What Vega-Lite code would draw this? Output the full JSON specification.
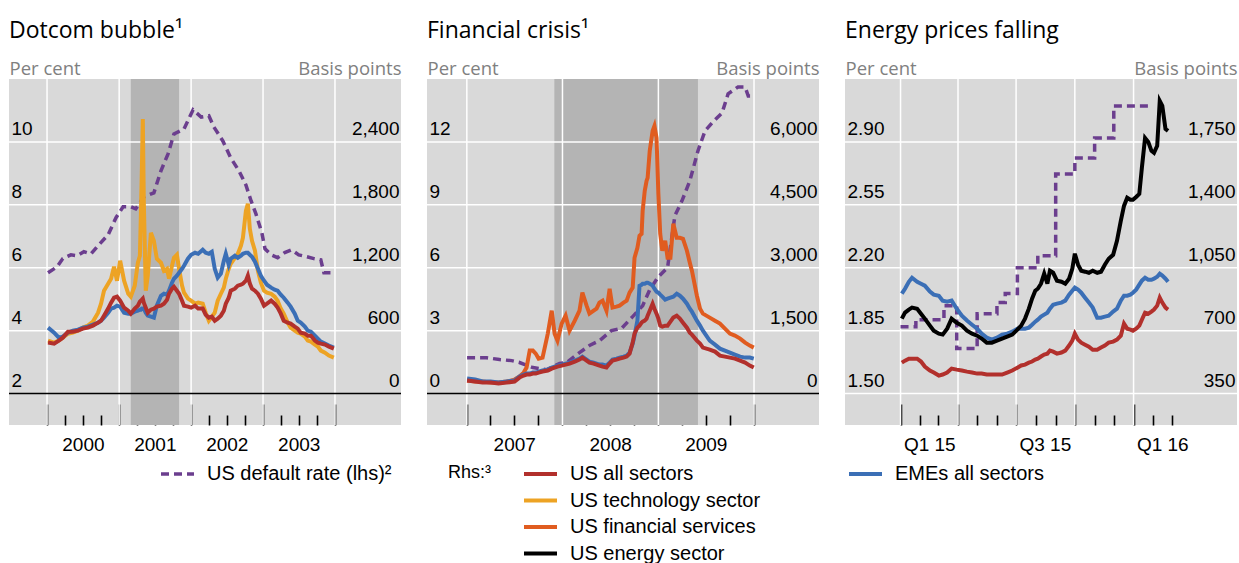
{
"$schema":"https://vega.github.io/schema/vega-lite/v6.json",
"padding":{"left":8,"top":20,"right":0,"bottom":0},
"spacing":24,
"background":"white",
"config":{
 "view":{"fill":"#d9d9d9","stroke":null},
 "axis":{"labelFont":"Liberation Sans","labelFontSize":19,"labelColor":"#000000","grid":false,"domain":false,"tickColor":"#000000","tickWidth":1.5,"tickOpacity":1,"labelFlush":false,"labelOverlap":false,"titleFont":"Open Sans","titleFontSize":18.5,"titleFontWeight":"normal","titleColor":"#808080"},
 "axisBottom":{"tickColor":"#000000","tickWidth":1.6,"tickOpacity":1,"zindex":1},
 "title":{"font":"Open Sans","fontSize":23,"fontWeight":"normal","color":"#000000","anchor":"start","frame":"group","offset":16},
 "legend":{"labelFont":"Liberation Sans","labelFontSize":20,"labelColor":"#000000","labelLimit":500,"symbolType":"stroke","symbolStrokeWidth":4,"symbolSize":1089,"labelOffset":11,"padding":0,"clipHeight":20,"rowPadding":6.5,"titleFont":"Liberation Sans","titleFontSize":18,"titleFontWeight":"normal","titleColor":"#000000"}
},
"resolve":{"scale":{"color":"independent"},"legend":{"color":"independent"}},
"hconcat":[
{
 "width":392,"height":346,
 "title":"Dotcom bubble¹",
 "resolve":{"scale":{"y":"independent","color":"independent"},"axis":{"x":"independent"}},
 "layer":[
  {"data":{"values":[{"s":"2001-03-01","e":"2001-11-01"}]},
   "mark":{"type":"rect","color":"#b4b4b4"},
   "encoding":{"x":{"field":"s","type":"temporal","scale":{"domain":[{"year":1999,"month":6,"date":22},{"year":2004,"month":12,"date":1}]},
     "axis":{"orient":"bottom","title":null,"labels":false,"ticks":true,"tickSize":-10,"tickColor":"#000000","values":[{"year":2000,"month":4,"date":1},{"year":2000,"month":7,"date":1},{"year":2000,"month":10,"date":1},{"year":2001,"month":4,"date":1},{"year":2001,"month":7,"date":1},{"year":2001,"month":10,"date":1},{"year":2002,"month":4,"date":1},{"year":2002,"month":7,"date":1},{"year":2002,"month":10,"date":1},{"year":2003,"month":4,"date":1},{"year":2003,"month":7,"date":1},{"year":2003,"month":10,"date":1}]}},
    "x2":{"field":"e"}}},
  {"data":{"values":[{"t":"2000-01-01"},{"t":"2001-01-01"},{"t":"2002-01-01"},{"t":"2003-01-01"},{"t":"2004-01-01"}]},
   "mark":{"type":"rule","color":"#ffffff","strokeWidth":1.5},
   "encoding":{"x":{"field":"t","type":"temporal","scale":{"domain":[{"year":1999,"month":6,"date":22},{"year":2004,"month":12,"date":1}]},
     "axis":{"orient":"bottom","title":null,"labels":false,"ticks":true,"tickSize":-21,"tickColor":"#000000","values":[{"year":2000,"month":1,"date":1},{"year":2001,"month":1,"date":1},{"year":2002,"month":1,"date":1},{"year":2003,"month":1,"date":1},{"year":2004,"month":1,"date":1}]}}}},
  {"layer":[
    {"data":{"values":[{"g":4},{"g":6},{"g":8},{"g":10}]},
     "mark":{"type":"rule","color":"#ffffff","strokeWidth":1.5},
     "encoding":{"y":{"field":"g","type":"quantitative","scale":{"domain":[1,12],"nice":false,"zero":false},
       "axis":{"orient":"left","title":"Per cent","values":[2,4,6,8,10],"format":".0f","ticks":false,"labelAlign":"left","labelPadding":-2,"labelBaseline":"alphabetic","labelOffset":-7,"titleAngle":0,"titleAlign":"left","titleBaseline":"alphabetic","titleX":0,"titleY":-5}}}},
    {"data":{"values":[{"z":2}]},
     "mark":{"type":"rule","color":"#000000","strokeWidth":1.5},
     "encoding":{"y":{"field":"z","type":"quantitative","scale":{"domain":[1,12],"nice":false,"zero":false}}}},
    {"data":{"values":[{"d":"2000-01-06","v":5.84},{"d":"2000-02-21","v":6.03},{"d":"2000-03-21","v":6.29},{"d":"2000-05-01","v":6.41},{"d":"2000-06-01","v":6.38},{"d":"2000-07-06","v":6.51},{"d":"2000-08-11","v":6.44},{"d":"2000-09-16","v":6.70},{"d":"2000-11-06","v":7.05},{"d":"2000-12-16","v":7.59},{"d":"2001-01-21","v":7.94},{"d":"2001-03-01","v":7.94},{"d":"2001-03-26","v":7.87},{"d":"2001-05-06","v":8.25},{"d":"2001-06-26","v":8.38},{"d":"2001-08-01","v":9.08},{"d":"2001-09-06","v":9.62},{"d":"2001-10-06","v":10.25},{"d":"2001-11-26","v":10.41},{"d":"2002-01-11","v":11.02},{"d":"2002-02-21","v":10.79},{"d":"2002-04-01","v":10.83},{"d":"2002-04-26","v":10.48},{"d":"2002-06-11","v":10.03},{"d":"2002-07-21","v":9.49},{"d":"2002-09-01","v":9.08},{"d":"2002-10-06","v":8.63},{"d":"2002-11-01","v":8.13},{"d":"2002-11-26","v":7.71},{"d":"2002-12-26","v":7.11},{"d":"2003-01-11","v":6.60},{"d":"2003-02-11","v":6.41},{"d":"2003-03-16","v":6.32},{"d":"2003-04-21","v":6.48},{"d":"2003-05-26","v":6.57},{"d":"2003-07-01","v":6.41},{"d":"2003-08-11","v":6.35},{"d":"2003-09-16","v":6.29},{"d":"2003-10-21","v":6.25},{"d":"2003-11-06","v":5.84},{"d":"2003-12-26","v":5.84}]},
     "mark":{"type":"line","strokeDash":[8,5],"strokeWidth":3.5},
     "encoding":{"x":{"field":"d","type":"temporal","scale":{"domain":[{"year":1999,"month":6,"date":22},{"year":2004,"month":12,"date":1}]},
       "axis":{"orient":"bottom","title":null,"ticks":false,"format":"%Y","labelPadding":10,"values":[{"year":2000,"month":7,"date":1},{"year":2001,"month":7,"date":1},{"year":2002,"month":7,"date":1},{"year":2003,"month":7,"date":1}]}},
      "y":{"field":"v","type":"quantitative","scale":{"domain":[1,12],"nice":false,"zero":false}},
      "color":{"datum":"US default rate (lhs)²","type":"nominal","scale":{"range":["#6b3e8e"]},
       "legend":{"orient":"none","legendX":150,"legendY":385,"title":null,"symbolDash":[8,5],"symbolStrokeWidth":3.5}}}}
  ]},
  {"data":{"values":[
{"d":"2000-01-06","a":486,"t":505,"e":629},{"d":"2000-02-06","a":476,"t":486,"e":581},{"d":"2000-03-01","a":505,"t":505,"e":533},{"d":"2000-03-21","a":533,"t":533,"e":543},{"d":"2000-04-16","a":590,"t":571,"e":581},{"d":"2000-05-11","a":590,"t":581,"e":600},{"d":"2000-06-06","a":600,"t":600,"e":610},{"d":"2000-07-01","a":619,"t":629,"e":629},{"d":"2000-07-26","a":629,"t":648,"e":638},{"d":"2000-08-21","a":648,"t":686,"e":657},{"d":"2000-09-16","a":676,"t":771,"e":676},{"d":"2000-10-01","a":695,"t":857,"e":695},{"d":"2000-10-16","a":743,"t":981,"e":724},{"d":"2000-11-06","a":810,"t":1048,"e":771},{"d":"2000-11-21","a":867,"t":1095,"e":810},{"d":"2000-12-06","a":914,"t":1210,"e":819},{"d":"2000-12-21","a":924,"t":1076,"e":838},{"d":"2001-01-06","a":886,"t":1267,"e":829},{"d":"2001-01-26","a":819,"t":1076,"e":771},{"d":"2001-02-16","a":790,"t":952,"e":762},{"d":"2001-03-01","a":762,"t":924,"e":762},{"d":"2001-03-21","a":810,"t":1029,"e":781},{"d":"2001-04-06","a":838,"t":1248,"e":790},{"d":"2001-04-16","a":876,"t":1314,"e":800},{"d":"2001-04-21","a":886,"t":1695,"e":800},{"d":"2001-04-26","a":895,"t":2124,"e":810},{"d":"2001-05-01","a":905,"t":2619,"e":810},{"d":"2001-05-06","a":867,"t":1838,"e":810},{"d":"2001-05-16","a":819,"t":981,"e":771},{"d":"2001-05-26","a":771,"t":1124,"e":743},{"d":"2001-06-11","a":800,"t":1533,"e":733},{"d":"2001-06-26","a":810,"t":1457,"e":724},{"d":"2001-07-11","a":829,"t":1286,"e":838},{"d":"2001-08-01","a":838,"t":1248,"e":933},{"d":"2001-08-16","a":857,"t":1171,"e":952},{"d":"2001-09-01","a":895,"t":1190,"e":943},{"d":"2001-09-11","a":952,"t":1095,"e":981},{"d":"2001-09-26","a":1000,"t":1219,"e":1057},{"d":"2001-10-06","a":1019,"t":1295,"e":1095},{"d":"2001-10-21","a":981,"t":1324,"e":1124},{"d":"2001-11-01","a":952,"t":1190,"e":1152},{"d":"2001-11-16","a":886,"t":1029,"e":1190},{"d":"2001-11-26","a":838,"t":962,"e":1219},{"d":"2001-12-16","a":829,"t":905,"e":1286},{"d":"2002-01-01","a":819,"t":886,"e":1324},{"d":"2002-01-21","a":838,"t":857,"e":1343},{"d":"2002-02-06","a":810,"t":867,"e":1333},{"d":"2002-03-01","a":810,"t":857,"e":1371},{"d":"2002-03-16","a":752,"t":771,"e":1343},{"d":"2002-04-01","a":724,"t":695,"e":1333},{"d":"2002-04-16","a":733,"t":733,"e":1352},{"d":"2002-05-01","a":695,"t":771,"e":1190},{"d":"2002-05-16","a":714,"t":886,"e":1105},{"d":"2002-06-01","a":743,"t":952,"e":1143},{"d":"2002-06-16","a":790,"t":1010,"e":1267},{"d":"2002-06-26","a":857,"t":1095,"e":1333},{"d":"2002-07-11","a":914,"t":1190,"e":1229},{"d":"2002-07-21","a":981,"t":1238,"e":1286},{"d":"2002-08-11","a":1000,"t":1295,"e":1314},{"d":"2002-08-26","a":1029,"t":1333,"e":1295},{"d":"2002-09-11","a":1038,"t":1410,"e":1314},{"d":"2002-09-21","a":1048,"t":1486,"e":1333},{"d":"2002-10-06","a":1076,"t":1743,"e":1343},{"d":"2002-10-16","a":1124,"t":1810,"e":1343},{"d":"2002-10-26","a":1048,"t":1571,"e":1324},{"d":"2002-11-06","a":1000,"t":1457,"e":1305},{"d":"2002-11-21","a":981,"t":1362,"e":1257},{"d":"2002-12-06","a":952,"t":1171,"e":1190},{"d":"2002-12-21","a":905,"t":1057,"e":1124},{"d":"2003-01-06","a":838,"t":981,"e":1076},{"d":"2003-01-21","a":857,"t":962,"e":1038},{"d":"2003-02-11","a":886,"t":952,"e":1010},{"d":"2003-03-01","a":857,"t":924,"e":990},{"d":"2003-03-16","a":819,"t":886,"e":981},{"d":"2003-04-01","a":762,"t":810,"e":943},{"d":"2003-04-16","a":695,"t":762,"e":914},{"d":"2003-05-06","a":676,"t":676,"e":867},{"d":"2003-05-21","a":667,"t":629,"e":829},{"d":"2003-06-11","a":638,"t":600,"e":762},{"d":"2003-06-26","a":619,"t":581,"e":695},{"d":"2003-07-11","a":581,"t":571,"e":676},{"d":"2003-08-01","a":571,"t":543,"e":638},{"d":"2003-08-16","a":552,"t":505,"e":600},{"d":"2003-09-01","a":552,"t":495,"e":590},{"d":"2003-09-21","a":505,"t":467,"e":552},{"d":"2003-10-06","a":486,"t":448,"e":524},{"d":"2003-10-21","a":476,"t":410,"e":495},{"d":"2003-11-11","a":467,"t":390,"e":476},{"d":"2003-12-01","a":448,"t":362,"e":457},{"d":"2003-12-26","a":429,"t":343,"e":438}]},
   "transform":[{"fold":["t","e","a"],"as":["k","v"]}],
   "mark":{"type":"line","strokeWidth":4},
   "encoding":{"x":{"field":"d","type":"temporal","scale":{"domain":[{"year":1999,"month":6,"date":22},{"year":2004,"month":12,"date":1}]},"axis":null},
    "y":{"field":"v","type":"quantitative","scale":{"domain":[-300,3000],"nice":false,"zero":false},
     "axis":{"orient":"right","title":"Basis points","values":[0,600,1200,1800,2400],"format":",.0f","ticks":false,"labelAlign":"right","labelPadding":-2,"labelBaseline":"alphabetic","labelOffset":-7,"titleAngle":0,"titleAlign":"right","titleBaseline":"alphabetic","titleX":0,"titleY":-5}},
    "color":{"field":"k","type":"nominal","scale":{"domain":["a","t","f","n","e"],"range":["#b2302c","#eda324","#e05c20","#000000","#3b6fb6"]},"legend":null}}}
 ]
},
{
 "width":392,"height":346,
 "title":"Financial crisis¹",
 "resolve":{"scale":{"y":"independent","color":"independent"},"axis":{"x":"independent"}},
 "layer":[
  {"data":{"values":[{"s":"2007-12-01","e":"2009-06-01"}]},
   "mark":{"type":"rect","color":"#b4b4b4"},
   "encoding":{"x":{"field":"s","type":"temporal","scale":{"domain":[{"year":2006,"month":8,"date":2},{"year":2010,"month":9,"date":6}]},
     "axis":{"orient":"bottom","title":null,"labels":false,"ticks":true,"tickSize":-10,"tickColor":"#000000","values":[{"year":2007,"month":4,"date":1},{"year":2007,"month":7,"date":1},{"year":2007,"month":10,"date":1},{"year":2008,"month":4,"date":1},{"year":2008,"month":7,"date":1},{"year":2008,"month":10,"date":1},{"year":2009,"month":4,"date":1},{"year":2009,"month":7,"date":1},{"year":2009,"month":10,"date":1}]}},
    "x2":{"field":"e"}}},
  {"data":{"values":[{"t":"2007-01-01"},{"t":"2008-01-01"},{"t":"2009-01-01"},{"t":"2010-01-01"}]},
   "mark":{"type":"rule","color":"#ffffff","strokeWidth":1.5},
   "encoding":{"x":{"field":"t","type":"temporal","scale":{"domain":[{"year":2006,"month":8,"date":2},{"year":2010,"month":9,"date":6}]},
     "axis":{"orient":"bottom","title":null,"labels":false,"ticks":true,"tickSize":-21,"tickColor":"#000000","values":[{"year":2007,"month":1,"date":1},{"year":2008,"month":1,"date":1},{"year":2009,"month":1,"date":1},{"year":2010,"month":1,"date":1}]}}}},
  {"layer":[
    {"data":{"values":[{"g":3},{"g":6},{"g":9},{"g":12}]},
     "mark":{"type":"rule","color":"#ffffff","strokeWidth":1.5},
     "encoding":{"y":{"field":"g","type":"quantitative","scale":{"domain":[-1.5,15],"nice":false,"zero":false},
       "axis":{"orient":"left","title":"Per cent","values":[0,3,6,9,12],"format":".0f","ticks":false,"labelAlign":"left","labelPadding":-2,"labelBaseline":"alphabetic","labelOffset":-7,"titleAngle":0,"titleAlign":"left","titleBaseline":"alphabetic","titleX":0,"titleY":-5}}}},
    {"data":{"values":[{"z":0}]},
     "mark":{"type":"rule","color":"#000000","strokeWidth":1.5},
     "encoding":{"y":{"field":"z","type":"quantitative","scale":{"domain":[-1.5,15],"nice":false,"zero":false}}}},
    {"data":{"values":[{"d":"2007-01-02","v":1.71},{"d":"2007-03-17","v":1.71},{"d":"2007-05-06","v":1.62},{"d":"2007-06-21","v":1.57},{"d":"2007-07-21","v":1.48},{"d":"2007-09-10","v":1.24},{"d":"2007-11-02","v":1.14},{"d":"2007-12-21","v":1.43},{"d":"2008-01-17","v":1.48},{"d":"2008-03-06","v":1.95},{"d":"2008-04-13","v":2.29},{"d":"2008-05-21","v":2.52},{"d":"2008-07-06","v":3.00},{"d":"2008-08-13","v":3.10},{"d":"2008-09-25","v":3.67},{"d":"2008-11-02","v":4.19},{"d":"2008-11-29","v":4.95},{"d":"2009-01-01","v":5.57},{"d":"2009-02-05","v":6.00},{"d":"2009-03-05","v":8.48},{"d":"2009-04-01","v":9.19},{"d":"2009-05-01","v":10.14},{"d":"2009-06-01","v":11.57},{"d":"2009-06-28","v":12.52},{"d":"2009-07-28","v":12.95},{"d":"2009-09-01","v":13.38},{"d":"2009-09-24","v":14.29},{"d":"2009-11-01","v":14.62},{"d":"2009-11-28","v":14.62},{"d":"2009-12-10","v":14.19},{"d":"2009-12-29","v":14.19}]},
     "mark":{"type":"line","strokeDash":[8,5],"strokeWidth":3.5},
     "encoding":{"x":{"field":"d","type":"temporal","scale":{"domain":[{"year":2006,"month":8,"date":2},{"year":2010,"month":9,"date":6}]},
       "axis":{"orient":"bottom","title":null,"ticks":false,"format":"%Y","labelPadding":10,"values":[{"year":2007,"month":7,"date":1},{"year":2008,"month":7,"date":1},{"year":2009,"month":7,"date":1}]}},
      "y":{"field":"v","type":"quantitative","scale":{"domain":[-1.5,15],"nice":false,"zero":false}},
      "color":{"datum":"US default rate (lhs)²","type":"nominal","scale":{"range":["#6b3e8e"]},"legend":null}}}
  ]},
  {"data":{"values":[
{"d":"2007-01-02","a":310,"e":357,"f":310},{"d":"2007-02-02","a":286,"e":333,"f":286},{"d":"2007-03-02","a":262,"e":286,"f":286},{"d":"2007-04-02","a":262,"e":286,"f":262},{"d":"2007-05-02","a":238,"e":262,"f":262},{"d":"2007-06-02","a":262,"e":286,"f":286},{"d":"2007-07-02","a":286,"e":310,"f":333},{"d":"2007-07-21","a":381,"e":405,"f":405},{"d":"2007-08-06","a":429,"e":452,"f":500},{"d":"2007-08-17","a":452,"e":476,"f":619},{"d":"2007-08-29","a":452,"e":476,"f":1024},{"d":"2007-09-10","a":476,"e":500,"f":1024},{"d":"2007-09-21","a":476,"e":500,"f":952},{"d":"2007-10-02","a":500,"e":524,"f":833},{"d":"2007-10-17","a":524,"e":548,"f":857},{"d":"2007-11-06","a":548,"e":571,"f":1429},{"d":"2007-11-21","a":595,"e":619,"f":1976},{"d":"2007-12-02","a":619,"e":643,"f":1429},{"d":"2007-12-13","a":643,"e":667,"f":1262},{"d":"2007-12-29","a":667,"e":690,"f":1667},{"d":"2008-01-13","a":690,"e":714,"f":1857},{"d":"2008-01-28","a":714,"e":738,"f":1500},{"d":"2008-02-17","a":762,"e":786,"f":1738},{"d":"2008-03-06","a":810,"e":833,"f":1976},{"d":"2008-03-17","a":857,"e":881,"f":2405},{"d":"2008-04-02","a":786,"e":810,"f":2095},{"d":"2008-04-13","a":738,"e":762,"f":1905},{"d":"2008-04-29","a":714,"e":738,"f":1976},{"d":"2008-05-10","a":690,"e":714,"f":2024},{"d":"2008-05-21","a":667,"e":690,"f":2167},{"d":"2008-06-02","a":643,"e":690,"f":2214},{"d":"2008-06-17","a":619,"e":667,"f":1976},{"d":"2008-06-29","a":714,"e":738,"f":2500},{"d":"2008-07-10","a":786,"e":810,"f":2048},{"d":"2008-07-25","a":810,"e":833,"f":2071},{"d":"2008-08-06","a":833,"e":857,"f":2095},{"d":"2008-08-21","a":857,"e":881,"f":2167},{"d":"2008-09-02","a":881,"e":905,"f":2214},{"d":"2008-09-13","a":952,"e":976,"f":2405},{"d":"2008-09-25","a":1214,"e":1190,"f":2524},{"d":"2008-10-02","a":1429,"e":1381,"f":3238},{"d":"2008-10-13","a":1571,"e":1738,"f":3476},{"d":"2008-10-21","a":1619,"e":2571,"f":3762},{"d":"2008-10-29","a":1690,"e":2595,"f":3810},{"d":"2008-11-02","a":1714,"e":2619,"f":4357},{"d":"2008-11-10","a":1738,"e":2619,"f":4833},{"d":"2008-11-17","a":1786,"e":2643,"f":5071},{"d":"2008-11-21","a":1857,"e":2643,"f":5143},{"d":"2008-11-29","a":1976,"e":2619,"f":5786},{"d":"2008-12-10","a":2143,"e":2571,"f":6262},{"d":"2008-12-17","a":2024,"e":2500,"f":6381},{"d":"2008-12-25","a":1905,"e":2429,"f":6095},{"d":"2009-01-01","a":1786,"e":2405,"f":4762},{"d":"2009-01-08","a":1619,"e":2357,"f":3810},{"d":"2009-01-16","a":1595,"e":2310,"f":3405},{"d":"2009-01-27","a":1619,"e":2238,"f":3643},{"d":"2009-02-05","a":1619,"e":2262,"f":3238},{"d":"2009-02-16","a":1714,"e":2286,"f":3238},{"d":"2009-02-27","a":1810,"e":2310,"f":4048},{"d":"2009-03-12","a":1857,"e":2381,"f":3714},{"d":"2009-03-24","a":1786,"e":2333,"f":3714},{"d":"2009-04-05","a":1690,"e":2262,"f":3690},{"d":"2009-04-20","a":1571,"e":2143,"f":3405},{"d":"2009-05-01","a":1452,"e":2024,"f":3119},{"d":"2009-05-09","a":1405,"e":1952,"f":2929},{"d":"2009-05-28","a":1262,"e":1738,"f":2333},{"d":"2009-06-09","a":1190,"e":1619,"f":2024},{"d":"2009-06-20","a":1095,"e":1500,"f":1905},{"d":"2009-07-16","a":1048,"e":1262,"f":1810},{"d":"2009-08-05","a":1000,"e":1167,"f":1738},{"d":"2009-08-24","a":905,"e":1071,"f":1667},{"d":"2009-09-12","a":881,"e":1024,"f":1548},{"d":"2009-10-01","a":857,"e":976,"f":1429},{"d":"2009-10-20","a":833,"e":929,"f":1381},{"d":"2009-11-09","a":786,"e":881,"f":1310},{"d":"2009-11-28","a":738,"e":857,"f":1214},{"d":"2009-12-16","a":667,"e":857,"f":1143},{"d":"2009-12-31","a":619,"e":833,"f":1095}]},
   "transform":[{"fold":["f","e","a"],"as":["k","v"]}],
   "mark":{"type":"line","strokeWidth":4},
   "encoding":{"x":{"field":"d","type":"temporal","scale":{"domain":[{"year":2006,"month":8,"date":2},{"year":2010,"month":9,"date":6}]},"axis":null},
    "y":{"field":"v","type":"quantitative","scale":{"domain":[-750,7500],"nice":false,"zero":false},
     "axis":{"orient":"right","title":"Basis points","values":[0,1500,3000,4500,6000],"format":",.0f","ticks":false,"labelAlign":"right","labelPadding":-2,"labelBaseline":"alphabetic","labelOffset":-7,"titleAngle":0,"titleAlign":"right","titleBaseline":"alphabetic","titleX":0,"titleY":-5}},
    "color":{"field":"k","type":"nominal","scale":{"domain":["a","t","f","n","e"],"range":["#b2302c","#eda324","#e05c20","#000000","#3b6fb6"]},
     "legend":{"orient":"none","legendX":21,"legendY":385,"title":"Rhs:³","titleOrient":"left","titleAnchor":"start","titlePadding":30,"values":["a","t","f","n"],"labelExpr":"datum.label == 'a' ? 'US all sectors' : datum.label == 't' ? 'US technology sector' : datum.label == 'f' ? 'US financial services' : datum.label == 'n' ? 'US energy sector' : 'EMEs all sectors'"}}}}
 ]
},
{
 "width":392,"height":346,
 "title":"Energy prices falling",
 "resolve":{"scale":{"y":"independent","color":"independent"},"axis":{"x":"independent"}},
 "layer":[
  {"data":{"values":[{"t":"2015-01-01"},{"t":"2015-04-01"},{"t":"2015-07-01"},{"t":"2015-10-01"},{"t":"2016-01-01"}]},
   "mark":{"type":"rule","color":"#ffffff","strokeWidth":1.5},
   "encoding":{"x":{"field":"t","type":"temporal","scale":{"domain":[{"year":2014,"month":10,"date":6},{"year":2016,"month":6,"date":11}]},
     "axis":{"orient":"bottom","title":null,"labels":false,"ticks":true,"tickSize":-21,"tickColor":"#000000","values":[{"year":2015,"month":1,"date":1},{"year":2015,"month":4,"date":1},{"year":2015,"month":7,"date":1},{"year":2015,"month":10,"date":1},{"year":2016,"month":1,"date":1}]}}}},
  {"layer":[
    {"data":{"values":[{"g":1.5},{"g":1.85},{"g":2.2},{"g":2.55},{"g":2.9}]},
     "mark":{"type":"rule","color":"#ffffff","strokeWidth":1.5},
     "encoding":{"y":{"field":"g","type":"quantitative","scale":{"domain":[1.325,3.25],"nice":false,"zero":false},
       "axis":{"orient":"left","title":"Per cent","values":[1.5,1.85,2.2,2.55,2.9],"format":".2f","ticks":false,"labelAlign":"left","labelPadding":-2,"labelBaseline":"alphabetic","labelOffset":-7,"titleAngle":0,"titleAlign":"left","titleBaseline":"alphabetic","titleX":0,"titleY":-5}}}},
    {"data":{"values":[{"d":"2015-01-01","v":1.872},{"d":"2015-01-25","v":1.911},{"d":"2015-03-10","v":1.989},{"d":"2015-03-30","v":1.75},{"d":"2015-05-01","v":1.944},{"d":"2015-06-01","v":2.006},{"d":"2015-06-14","v":2.056},{"d":"2015-07-03","v":2.2},{"d":"2015-08-04","v":2.267},{"d":"2015-09-01","v":2.722},{"d":"2015-10-01","v":2.811},{"d":"2015-11-01","v":2.922},{"d":"2015-12-01","v":3.1},{"d":"2016-01-30","v":3.1}]},
     "mark":{"type":"line","strokeDash":[8,5],"strokeWidth":3.5,"interpolate":"step-after"},
     "encoding":{"x":{"field":"d","type":"temporal","scale":{"domain":[{"year":2014,"month":10,"date":6},{"year":2016,"month":6,"date":11}]},
       "axis":{"orient":"bottom","title":null,"ticks":false,"format":"Q%q %y","labelPadding":10,"values":[{"year":2015,"month":2,"date":15},{"year":2015,"month":8,"date":15},{"year":2016,"month":2,"date":15}]}},
      "y":{"field":"v","type":"quantitative","scale":{"domain":[1.325,3.25],"nice":false,"zero":false}},
      "color":{"datum":"US default rate (lhs)²","type":"nominal","scale":{"range":["#6b3e8e"]},"legend":null}}}
  ]},
  {"data":{"values":[
{"d":"2015-01-03","a":522,"e":906,"n":767},{"d":"2015-01-08","a":533,"e":933,"n":800},{"d":"2015-01-14","a":544,"e":972,"n":817},{"d":"2015-01-19","a":544,"e":994,"n":828},{"d":"2015-01-27","a":544,"e":972,"n":822},{"d":"2015-02-02","a":528,"e":961,"n":794},{"d":"2015-02-08","a":500,"e":950,"n":767},{"d":"2015-02-16","a":478,"e":917,"n":728},{"d":"2015-02-22","a":467,"e":900,"n":700},{"d":"2015-03-02","a":450,"e":894,"n":683},{"d":"2015-03-08","a":456,"e":867,"n":678},{"d":"2015-03-15","a":467,"e":861,"n":711},{"d":"2015-03-22","a":489,"e":867,"n":767},{"d":"2015-03-30","a":483,"e":822,"n":744},{"d":"2015-04-07","a":478,"e":783,"n":728},{"d":"2015-04-15","a":472,"e":756,"n":700},{"d":"2015-04-23","a":467,"e":733,"n":683},{"d":"2015-05-01","a":461,"e":711,"n":672},{"d":"2015-05-08","a":461,"e":683,"n":656},{"d":"2015-05-16","a":456,"e":661,"n":633},{"d":"2015-05-24","a":456,"e":650,"n":633},{"d":"2015-06-01","a":456,"e":661,"n":644},{"d":"2015-06-09","a":456,"e":678,"n":656},{"d":"2015-06-17","a":467,"e":683,"n":667},{"d":"2015-06-25","a":478,"e":694,"n":678},{"d":"2015-07-03","a":494,"e":711,"n":706},{"d":"2015-07-09","a":506,"e":711,"n":728},{"d":"2015-07-15","a":511,"e":711,"n":767},{"d":"2015-07-21","a":522,"e":717,"n":822},{"d":"2015-07-26","a":528,"e":733,"n":878},{"d":"2015-07-31","a":539,"e":750,"n":922},{"d":"2015-08-04","a":544,"e":761,"n":933},{"d":"2015-08-09","a":556,"e":778,"n":961},{"d":"2015-08-14","a":567,"e":789,"n":1017},{"d":"2015-08-19","a":572,"e":800,"n":961},{"d":"2015-08-23","a":589,"e":822,"n":1033},{"d":"2015-08-28","a":583,"e":844,"n":1022},{"d":"2015-09-03","a":572,"e":850,"n":978},{"d":"2015-09-10","a":578,"e":856,"n":972},{"d":"2015-09-16","a":589,"e":867,"n":961},{"d":"2015-09-22","a":617,"e":900,"n":989},{"d":"2015-09-27","a":644,"e":922,"n":1044},{"d":"2015-10-01","a":683,"e":939,"n":1128},{"d":"2015-10-06","a":650,"e":928,"n":1067},{"d":"2015-10-11","a":633,"e":911,"n":1033},{"d":"2015-10-17","a":622,"e":883,"n":1028},{"d":"2015-10-23","a":611,"e":856,"n":1022},{"d":"2015-10-29","a":594,"e":828,"n":1033},{"d":"2015-11-05","a":594,"e":772,"n":1022},{"d":"2015-11-11","a":606,"e":772,"n":1028},{"d":"2015-11-17","a":617,"e":778,"n":1067},{"d":"2015-11-23","a":633,"e":783,"n":1100},{"d":"2015-11-30","a":639,"e":806,"n":1122},{"d":"2015-12-06","a":650,"e":822,"n":1200},{"d":"2015-12-12","a":672,"e":867,"n":1311},{"d":"2015-12-17","a":739,"e":894,"n":1394},{"d":"2015-12-22","a":711,"e":894,"n":1439},{"d":"2015-12-27","a":706,"e":900,"n":1428},{"d":"2015-12-31","a":700,"e":911,"n":1428},{"d":"2016-01-05","a":711,"e":928,"n":1444},{"d":"2016-01-10","a":728,"e":956,"n":1461},{"d":"2016-01-14","a":761,"e":978,"n":1606},{"d":"2016-01-19","a":800,"e":994,"n":1772},{"d":"2016-01-24","a":794,"e":983,"n":1750},{"d":"2016-01-29","a":806,"e":983,"n":1700},{"d":"2016-02-02","a":817,"e":989,"n":1689},{"d":"2016-02-07","a":839,"e":1000,"n":1728},{"d":"2016-02-11","a":883,"e":1017,"n":1978},{"d":"2016-02-15","a":856,"e":1006,"n":1950},{"d":"2016-02-20","a":828,"e":989,"n":1822},{"d":"2016-02-24","a":817,"e":972,"n":1811}]},
   "transform":[{"fold":["a","e","n"],"as":["k","v"]}],
   "mark":{"type":"line","strokeWidth":4},
   "encoding":{"x":{"field":"d","type":"temporal","scale":{"domain":[{"year":2014,"month":10,"date":6},{"year":2016,"month":6,"date":11}]},
     "axis":{"orient":"bottom","title":null,"labels":false,"ticks":true,"tickSize":-10,"tickColor":"#000000","values":[{"year":2015,"month":2,"date":1},{"year":2015,"month":3,"date":1},{"year":2015,"month":5,"date":1},{"year":2015,"month":6,"date":1},{"year":2015,"month":8,"date":1},{"year":2015,"month":9,"date":1},{"year":2015,"month":11,"date":1},{"year":2015,"month":12,"date":1},{"year":2016,"month":2,"date":1},{"year":2016,"month":3,"date":1}]}},
    "y":{"field":"v","type":"quantitative","scale":{"domain":[175,2100],"nice":false,"zero":false},
     "axis":{"orient":"right","title":"Basis points","values":[350,700,1050,1400,1750],"format":",.0f","ticks":false,"labelAlign":"right","labelPadding":-2,"labelBaseline":"alphabetic","labelOffset":-7,"titleAngle":0,"titleAlign":"right","titleBaseline":"alphabetic","titleX":0,"titleY":-5}},
    "color":{"field":"k","type":"nominal","scale":{"domain":["a","t","f","n","e"],"range":["#b2302c","#eda324","#e05c20","#000000","#3b6fb6"]},
     "legend":{"orient":"none","legendX":2,"legendY":385,"title":null,"values":["e"],"labelExpr":"'EMEs all sectors'"}}}}
 ]
}
]
}
